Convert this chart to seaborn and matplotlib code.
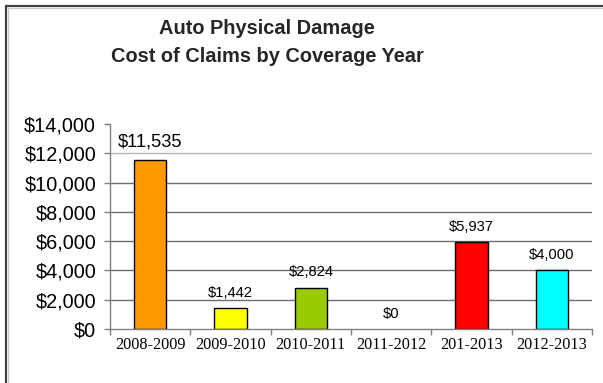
import matplotlib
matplotlib.use("Agg")
import matplotlib.pyplot as plt
from matplotlib.lines import Line2D
from matplotlib.ticker import FixedLocator, FuncFormatter
import seaborn as sns
import pandas as pd

# Chart data
years = ["2008-2009", "2009-2010", "2010-2011", "2011-2012", "201-2013", "2012-2013"]
costs = [11535, 1442, 2824, 0, 5937, 4000]
bar_colors = ["#FF9900", "#FFFF00", "#99CC00", "#FFFFFF", "#FF0000", "#00FFFF"]
y_ticks = [0, 2000, 4000, 6000, 8000, 10000, 12000, 14000]
title_lines = ["Auto Physical Damage", "Cost of Claims by Coverage Year"]

sns.set_theme(style="white")
plt.rcParams["font.family"] = ["Liberation Sans", "DejaVu Sans"]

W, H, DPI = 603, 383, 100
fig = plt.figure(figsize=(W / DPI, H / DPI), dpi=DPI)
ax = fig.add_axes([110 / W, 1 - 329 / H, (592 - 110) / W, (329 - 124) / H])

df = pd.DataFrame({"year": years, "cost": costs})
sns.barplot(data=df, x="year", y="cost", hue="year", palette=bar_colors,
            order=years, hue_order=years, legend=False, width=0.4,
            edgecolor="black", linewidth=1.0, saturation=1, ax=ax)

# A zero-height bar shows no outline
for patch in ax.patches:
    if patch.get_height() == 0:
        patch.set_linewidth(0)

ax.set_xlim(-0.5, len(years) - 0.5)
ax.set_ylim(0, 14000)
ax.set_xlabel("")
ax.set_ylabel("")

# Gridlines at each y tick except the top one
ax.yaxis.set_major_locator(FixedLocator(y_ticks))
ax.yaxis.set_major_formatter(FuncFormatter(lambda v, p: f"${v:,.0f}"))
ax.grid(axis="y", color="#6e6e6e", linewidth=1.0)
ax.set_axisbelow(True)
for line, v in zip(ax.get_ygridlines(), y_ticks):
    if v in (0, 14000):
        line.set_visible(False)
    elif v == 12000:
        line.set_color("#b4b4b4")

for side in ("top", "right"):
    ax.spines[side].set_visible(False)
for side in ("left", "bottom"):
    ax.spines[side].set_color("#7f7f7f")
    ax.spines[side].set_linewidth(1.0)

ax.tick_params(axis="y", which="major", direction="out", length=4, width=1,
               color="#7f7f7f", pad=6, labelsize=14.3, labelcolor="black", left=True)
# Category labels sit between boundary ticks
ax.set_xticks(range(len(years)))
ax.set_xticklabels(years, fontfamily=["Liberation Serif", "DejaVu Serif"], fontsize=11.7)
ax.set_xticks([i - 0.5 for i in range(len(years) + 1)], minor=True)
ax.tick_params(axis="x", which="major", length=0, pad=6, labelcolor="black")
ax.tick_params(axis="x", which="minor", direction="out", length=4, width=1,
               color="#7f7f7f", bottom=True)

# Value labels above bars
for i, v in enumerate(costs):
    big = i == 0
    ax.annotate(f"${v:,}", xy=(i, v), xytext=(0, 13 if big else 11),
                textcoords="offset points", ha="center", va="center",
                fontsize=13.2 if big else 10.6, color="black")

# Title
fig.text(267 / W, 1 - 28 / H, title_lines[0], ha="center", va="center",
         fontsize=14.4, fontweight="bold")
fig.text(267 / W, 1 - 57 / H, title_lines[1], ha="center", va="center",
         fontsize=14.4, fontweight="bold")

# Outer chart frame (left and top edges)
fig.add_artist(Line2D([6 / W, 6 / W], [0, 1 - 6 / H], transform=fig.transFigure,
                      color="#404040", linewidth=1.6))
fig.add_artist(Line2D([6 / W, 1], [1 - 6 / H, 1 - 6 / H], transform=fig.transFigure,
                      color="#404040", linewidth=1.6))
fig.add_artist(Line2D([7.8 / W, 7.8 / W], [0, 1 - 7.8 / H], transform=fig.transFigure,
                      color="#c8c8c8", linewidth=0.8))
fig.add_artist(Line2D([7.8 / W, 1], [1 - 7.8 / H, 1 - 7.8 / H], transform=fig.transFigure,
                      color="#c8c8c8", linewidth=0.8))

fig.savefig("out.png", dpi=DPI)
